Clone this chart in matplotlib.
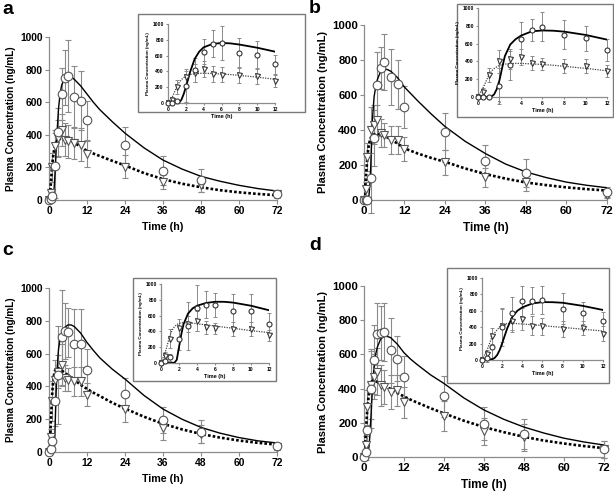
import matplotlib
matplotlib.use("Agg")
import matplotlib.pyplot as plt
from matplotlib.patches import Rectangle

plt.rcParams['font.family'] = ['Liberation Sans', 'DejaVu Sans']
plt.rcParams['font.weight'] = 'bold'

T_OBS = [0, 0.5, 1, 2, 3, 4, 5, 6, 8, 10, 12, 24, 36, 48, 72]
T_FIT = [0, 0.5, 1, 1.25, 1.5, 1.75, 2, 2.25, 2.5, 3, 3.5, 4, 5, 6, 7, 8, 10, 12,
         14, 16, 20, 24, 30, 36, 42, 48, 54, 60, 66, 72]

# panel a
a_circ = [0, 5, 25, 210, 415, 650, 750, 760, 630, 610, 490, 335, 180, 120, 35]
a_circ_sd = [0, 5, 15, 200, 150, 160, 170, 220, 190, 180, 120, 110, 90, 72, 20]
a_tri = [0, 40, 200, 330, 380, 430, 370, 360, 350, 340, 280, 205, 110, 90, 35]
a_tri_sd = [0, 30, 90, 100, 110, 100, 100, 100, 100, 100, 80, 70, 45, 40, 15]
a_fit_solid = [0, 0, 0, 8, 40, 110, 200, 300, 400, 560, 650, 705, 748, 760, 755, 740, 700, 650,
               600, 555, 480, 410, 320, 245, 190, 145, 115, 90, 70, 55]
a_fit_dot = [0, 80, 210, 260, 295, 320, 338, 350, 360, 370, 375, 377, 373, 367, 360, 350, 328, 300,
             285, 270, 240, 212, 165, 128, 100, 78, 60, 47, 37, 29]

# panel b
b_circ = [0, 0, 0, 125, 355, 655, 755, 790, 700, 660, 530, 390, 225, 155, 45]
b_circ_sd = [0, 0, 0, 200, 160, 190, 120, 160, 160, 140, 120, 105, 90, 80, 30]
b_tri = [0, 60, 245, 400, 430, 455, 380, 370, 345, 345, 290, 215, 130, 100, 30]
b_tri_sd = [0, 40, 80, 130, 110, 90, 80, 70, 80, 80, 70, 70, 55, 50, 20]
b_fit_solid = [0, 0, 0, 5, 30, 90, 190, 330, 460, 590, 650, 690, 738, 748, 745, 735, 698, 645,
               605, 565, 490, 420, 335, 265, 205, 160, 128, 102, 84, 70]
b_fit_dot = [0, 110, 245, 290, 320, 340, 355, 365, 370, 375, 378, 378, 372, 365, 357, 345, 322, 295,
             280, 265, 240, 218, 180, 148, 122, 100, 85, 72, 62, 54]

# panel c
c_circ = [0, 20, 70, 310, 470, 700, 740, 730, 660, 660, 500, 355, 195, 125, 35]
c_circ_sd = [0, 15, 40, 150, 300, 290, 170, 150, 210, 210, 130, 95, 80, 70, 20]
c_tri = [0, 90, 310, 440, 490, 530, 450, 440, 430, 430, 350, 260, 145, 110, 30]
c_tri_sd = [0, 50, 120, 120, 100, 130, 80, 70, 90, 90, 70, 80, 70, 55, 15]
c_fit_solid = [0, 0, 0, 0, 5, 40, 200, 360, 490, 625, 690, 725, 760, 775, 775, 765, 725, 668,
               620, 575, 505, 445, 345, 262, 200, 150, 115, 88, 68, 55]
c_fit_dot = [0, 145, 350, 420, 460, 488, 500, 508, 510, 510, 505, 497, 483, 468, 454, 440, 410, 385,
             362, 342, 300, 265, 215, 172, 138, 110, 88, 70, 56, 45]

# panel d
d_circ = [0, 30, 160, 400, 570, 720, 725, 730, 625, 575, 470, 355, 195, 135, 45]
d_circ_sd = [0, 50, 130, 230, 200, 180, 160, 170, 190, 130, 120, 120, 95, 90, 50]
d_tri = [0, 70, 290, 420, 470, 500, 420, 410, 380, 390, 320, 240, 150, 115, 45]
d_tri_sd = [0, 50, 100, 200, 130, 140, 120, 100, 100, 90, 90, 90, 80, 80, 50]
d_fit_solid = [0, 0, 8, 25, 60, 120, 203, 295, 385, 525, 600, 642, 690, 706, 705, 698, 660, 610,
               572, 540, 480, 430, 345, 275, 220, 175, 140, 110, 88, 70]
d_fit_dot = [0, 120, 285, 330, 368, 405, 430, 440, 445, 447, 444, 439, 430, 420, 408, 398, 375, 354,
             335, 318, 285, 255, 212, 175, 145, 118, 96, 79, 64, 52]

MAIN_XT = [0, 12, 24, 36, 48, 60, 72]
INSET_XT = [0, 2, 4, 6, 8, 10, 12]
YT = [0, 200, 400, 600, 800, 1000]
SPINE = '#8c8c8c'
ERR = '#8a8a8a'


def style_axes(ax, fs, tick_len):
    for s in ['top', 'right']:
        ax.spines[s].set_visible(False)
    for s in ['left', 'bottom']:
        ax.spines[s].set_color(SPINE)
        ax.spines[s].set_linewidth(0.9)
    ax.tick_params(colors=SPINE, labelcolor='black', labelsize=fs, length=tick_len, width=0.8, pad=1.5)
    for lab in ax.get_xticklabels() + ax.get_yticklabels():
        lab.set_fontweight('bold')


def draw(ax, n_obs, n_fit, circ, circ_sd, tri, tri_sd, fit_s, fit_d, inset=False):
    ms = 3.6 if inset else 6.2
    cap = 1.3 if inset else 2.2
    elw = 0.7 if inset else 0.8
    edge = '#333333' if inset else '#555555'
    ax.errorbar(T_OBS[:n_obs], tri[:n_obs], yerr=tri_sd[:n_obs], fmt='none', ecolor=ERR,
                elinewidth=elw, capsize=cap, capthick=elw, clip_on=False, zorder=2)
    ax.errorbar(T_OBS[:n_obs], circ[:n_obs], yerr=circ_sd[:n_obs], fmt='none', ecolor=ERR,
                elinewidth=elw, capsize=cap, capthick=elw, clip_on=False, zorder=2)
    if inset:
        ax.plot(T_FIT[:n_fit], fit_d[:n_fit], color='#444444', lw=0.9, ls=(0, (1, 1)), zorder=3)
        ax.plot(T_FIT[:n_fit], fit_s[:n_fit], color='black', lw=1.3, zorder=3)
    else:
        ax.plot(T_FIT[:n_fit], fit_d[:n_fit], color='black', lw=1.9, ls=(0, (1, 0.8)), zorder=3)
        ax.plot(T_FIT[:n_fit], fit_s[:n_fit], color='black', lw=1.0, zorder=3)
    ax.plot(T_OBS[:n_obs], tri[:n_obs], 'v', ms=ms, mfc='white', mec=edge, mew=0.8,
            clip_on=False, zorder=4)
    ax.plot(T_OBS[:n_obs], circ[:n_obs], 'o', ms=ms, mfc='white', mec=edge, mew=0.8,
            clip_on=False, zorder=5)


fig = plt.figure(figsize=(6.14, 4.96), dpi=100)

panels = [
    ('a', [0.0798, 0.5968, 0.3713, 0.3286], [0.2248, 0.7742, 0.272, 0.1976],
     [0.2736, 0.7923, 0.1743, 0.1593], (0.004, 0.997), 7.4,
     a_circ, a_circ_sd, a_tri, a_tri_sd, a_fit_solid, a_fit_dot),
    ('b', [0.5928, 0.5968, 0.3958, 0.3528], [0.7443, 0.7641, 0.2541, 0.2278],
     [0.7785, 0.8044, 0.2101, 0.1794], (0.502, 0.999), 8.2,
     b_circ, b_circ_sd, b_tri, b_tri_sd, b_fit_solid, b_fit_dot),
    ('c', [0.0798, 0.0887, 0.3713, 0.3306], [0.2166, 0.2319, 0.2329, 0.2077],
     [0.2622, 0.2681, 0.1759, 0.1593], (0.004, 0.513), 7.4,
     c_circ, c_circ_sd, c_tri, c_tri_sd, c_fit_solid, c_fit_dot),
    ('d', [0.5928, 0.0786, 0.3909, 0.3448], [0.728, 0.2278, 0.2638, 0.2319],
     [0.785, 0.2742, 0.1971, 0.1653], (0.504, 0.523), 8.2,
     d_circ, d_circ_sd, d_tri, d_tri_sd, d_fit_solid, d_fit_dot),
]

for (letter, rect, box, irect, lpos, fs, circ, circ_sd, tri, tri_sd, fs_s, fs_d) in panels:
    ax = fig.add_axes(rect)
    draw(ax, len(T_OBS), len(T_FIT), circ, circ_sd, tri, tri_sd, fs_s, fs_d)
    ax.set_xlim(0, 72)
    ax.set_ylim(0, 1000)
    ax.set_xticks(MAIN_XT)
    ax.set_yticks(YT)
    style_axes(ax, fs, 3)
    ax.set_xlabel('Time (h)', fontsize=fs + 0.3, fontweight='bold', labelpad=4)
    ax.set_ylabel('Plasma Concentration (ng/mL)', fontsize=fs - 0.2, fontweight='bold', labelpad=3)
    fig.text(lpos[0], lpos[1], letter, fontsize=14, fontweight='bold', ha='left', va='top')

    # inset frame
    fig.patches.append(Rectangle((box[0], box[1]), box[2], box[3], transform=fig.transFigure,
                                 facecolor='white', edgecolor='#7a7a7a', lw=1.0, zorder=5))
    iax = fig.add_axes(irect, zorder=10)
    iax.patch.set_alpha(0)
    draw(iax, 11, 18, circ, circ_sd, tri, tri_sd, fs_s, fs_d, inset=True)
    iax.set_xlim(0, 12)
    iax.set_ylim(0, 1000)
    iax.set_xticks(INSET_XT)
    iax.set_yticks(YT)
    style_axes(iax, 3.6, 1.5)
    iax.set_xlabel('Time (h)', fontsize=4, fontweight='bold', labelpad=1)
    iax.set_ylabel('Plasma Concentration (ng/mL)', fontsize=3.2, fontweight='bold', labelpad=2)

fig.savefig('out.png', dpi=100)
